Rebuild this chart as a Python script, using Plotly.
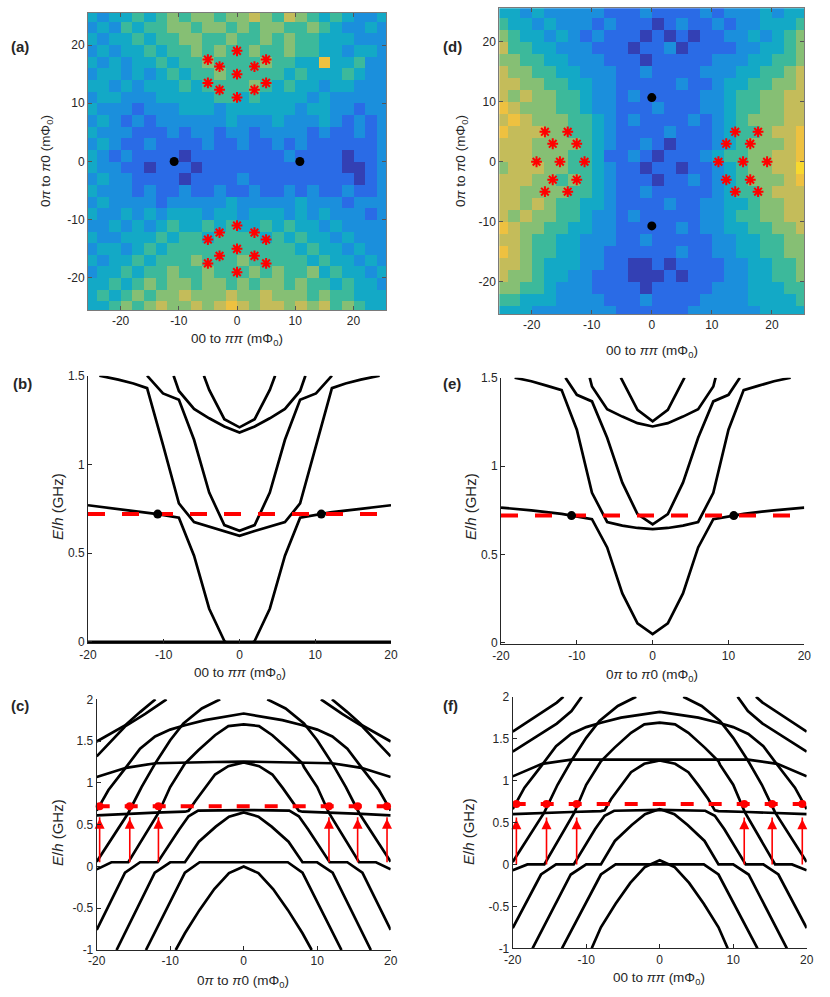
import plotly.graph_objects as go

W, H = 830, 997
FONT = "Liberation Sans"
INK = "#262626"

# ---------------- (a) / (d): colour level (0-9) of each 2x2 mPhi0 block, rows from top
grid_x = list(range(-25, 26, 2))
grid_y = list(range(25, -26, -2))

a_rows = [
    "32334345455455654654343223",
    "23243445545545455445432232",
    "32334344554454454544333222",
    "23233434454544544544332332",
    "32323343445444454433733422",
    "23323234344544444343334322",
    "33232333434444543433233222",
    "23322233333443433332322222",
    "32221222333233333323322122",
    "23212122222232223222321212",
    "32221112122122122221211212",
    "23211211112112112121111112",
    "32121111011111111211110112",
    "32211011101111111111110012",
    "23221111011112111111111012",
    "32221211211211211212112112",
    "23222212222232222232221222",
    "32232323332332333232322212",
    "22323234334343343433232222",
    "32233343443444434343323222",
    "23323434444444444434332322",
    "32334344454445444443433232",
    "23343445445444545445343323",
    "33434545545545455454434332",
    "34345455655565565554544333",
    "33454565565676566565645433",
]

d_rows = [
    "33232222211121111212223233",
    "43323222121110121121223334",
    "54332321211101010112232345",
    "64433222111011201111223345",
    "55443322211101111122233445",
    "65544332221121111222334456",
    "66554433221111121123344556",
    "65655443221211111223445566",
    "76555443221112111223445566",
    "67655544321211112123455566",
    "76665544321111211123445667",
    "66655554321121011123455567",
    "66655544311210111234455667",
    "56665544321101101123455668",
    "66655454321110112123455567",
    "66555544321121111123445666",
    "66565443321111211223345566",
    "65655443221211111223445566",
    "76554433221111121223344556",
    "66544332221121111122334455",
    "76544332211111121122334455",
    "66543332211001011112233445",
    "65543322111000101112233445",
    "55443222111101111122233344",
    "44333222211121111222233334",
    "33322222221111112222223333",
]

parula = ["#3340b4", "#2a6be6", "#1b8fdc", "#13a9c6", "#3cb99b",
          "#86bf74", "#c4bc5a", "#eec140", "#f8d82e", "#f5f520"]

a_star_x = [0, 0, 0, -3, -3, 3, 3, -5, -5, 5, 5,
            0, 0, 0, -3, -3, 3, 3, -5, -5, 5, 5]
a_star_y = [19, 15, 11, 16.3, 12.3, 16.3, 12.3, 17.5, 13.5, 17.5, 13.5,
            -19, -15, -11, -12.2, -16.2, -12.2, -16.2, -13.4, -17.5, -13.4, -17.5]
a_dot_x = [-10.8, 10.8]
a_dot_y = [0, 0]

d_star_x = [-19.2, -15.3, -11.2, -16.5, -12.5, -16.5, -12.5, -17.8, -14, -17.8, -14,
            11.1, 15.2, 19.2, 12.4, 16.4, 12.4, 16.4, 13.9, 17.7, 13.9, 17.7]
d_star_y = [0, 0, 0, 3, 3, -3, -3, 5, 5, -5, -5,
            0, 0, 0, 3, 3, -3, -3, 5, 5, -5, -5]
d_dot_x = [0, 0]
d_dot_y = [10.7, -10.7]

# ---------------- (b): levels vs 00 to pipi
b_lines_x = [
    [-20, 20],
    [-20, -16, -12, -10.8, -8, -6, -4, -2, 0, 2, 4, 6, 8, 10.8, 12, 16, 20],
    [-18.5, -16, -14, -12.2, -10.1, -8, -6, -4, -2, 0, 2, 4, 6, 8, 10.1, 12.2, 14, 16, 18.5],
    [-12.2, -10.1, -8, -6, -4, -2, 0, 2, 4, 6, 8, 10.1, 12.2],
    [-8.7, -8, -6, -4, -2, 0, 2, 4, 6, 8, 8.7],
    [-4.7, -4, -2, 0, 2, 4, 4.7],
]
b_lines_y = [
    [0, 0],
    [0.77, 0.75, 0.73, 0.72, 0.70, 0.486, 0.187, 0.005, -0.06, 0.005, 0.187, 0.486, 0.70, 0.72, 0.73, 0.75, 0.77],
    [1.5, 1.478, 1.456, 1.43, 1.11, 0.78, 0.675, 0.65, 0.625, 0.598, 0.625, 0.65, 0.675, 0.78, 1.11, 1.43, 1.456, 1.478, 1.5],
    [1.5, 1.40, 1.364, 1.139, 0.841, 0.658, 0.626, 0.658, 0.841, 1.139, 1.364, 1.40, 1.5],
    [1.5, 1.414, 1.313, 1.26, 1.214, 1.18, 1.214, 1.26, 1.313, 1.414, 1.5],
    [1.5, 1.42, 1.255, 1.209, 1.255, 1.42, 1.5],
]
b_dot_x = [-10.8, 10.8]
b_dot_y = [0.72, 0.72]

# ---------------- (e): levels vs 0pi to pi0
e_lines_x = [
    [-20, -16, -12, -10.7, -8, -6, -4, -2, 0, 2, 4, 6, 8, 10.7, 12, 16, 20],
    [-18.2, -16, -14, -12, -10, -8, -6, -4, -2, 0, 2, 4, 6, 8, 10, 12, 14, 16, 18.2],
    [-11.5, -10, -8, -6, -4, -2, 0, 2, 4, 6, 8, 10, 11.5],
    [-8.3, -8, -6, -4, -2, 0, 2, 4, 6, 8, 8.3],
    [-4.2, -2, 0, 2, 4.2],
]
e_lines_y = [
    [0.765, 0.75, 0.73, 0.72, 0.70, 0.54, 0.28, 0.11, 0.05, 0.11, 0.28, 0.54, 0.70, 0.72, 0.73, 0.75, 0.765],
    [1.5, 1.48, 1.455, 1.43, 1.206, 0.849, 0.684, 0.663, 0.65, 0.643, 0.65, 0.663, 0.684, 0.849, 1.206, 1.43, 1.455, 1.48, 1.5],
    [1.5, 1.403, 1.366, 1.16, 0.906, 0.728, 0.671, 0.728, 0.906, 1.16, 1.366, 1.403, 1.5],
    [1.5, 1.45, 1.322, 1.28, 1.243, 1.224, 1.243, 1.28, 1.322, 1.45, 1.5],
    [1.5, 1.318, 1.253, 1.318, 1.5],
]
e_dot_x = [-10.7, 10.7]
e_dot_y = [0.72, 0.72]

# ---------------- (c): levels vs 0pi to pi0, with pump arrows
c_lines_x = [
    [-9.25, -8, -6, -4, -2, 0, 2, 4, 6, 8, 9.25],
    [-13.3, -8, -6, 6, 8, 13.3],
    [-17.3, -12.1, -10, -8, -6.1, -3.8, -2, 0, 2, 3.8, 6.1, 8, 10, 12.1, 17.3],
    [-20, -16.15, -14.1, -11.7, -8.8, -7.5, -6.2, 0, 6.2, 7.5, 8.8, 11.7, 14.1, 16.15, 20],
    [-20, -16, -12, -8, -7.5, -6.6, -5.3, -3.9, -2.1, 0, 2.1, 3.9, 5.3, 6.6, 7.5, 8, 12, 16, 20],
    [-20, -18, -15.7, -11.6, -10, -8.2, -8, -6.17, -3.9, -2.09, 0, 2.09, 3.9, 6.17, 8, 8.2, 10, 11.6, 15.7, 18, 20],
    [-20, -15.7, -13.9, -12.06, -10, -8.2, -5.7, -3.2],
    [20, 15.7, 13.9, 12.06, 10, 8.2, 5.7, 3.2],
    [-20, -18.4, -16.15, -14.1, -12.06, -10, -8, -5.26, 0, 5.26, 8, 10, 12.06, 14.1, 16.15, 18.4, 20],
    [-20, -16, -12, -8, -4, 0, 4, 8, 12, 16, 20],
    [-20, -18, -16.15, -14.1, -12],
    [20, 18, 16.15, 14.1, 12],
    [-20, -18, -16.15, -13.4, -10.5],
    [20, 18, 16.15, 13.4, 10.5],
]
c_lines_y = [
    [-1, -0.8, -0.52, -0.27, -0.08, 0, -0.08, -0.27, -0.52, -0.8, -1],
    [-1, -0.075, 0.05, 0.05, -0.075, -1],
    [-1, -0.075, 0.05, 0.05, 0.296, 0.476, 0.596, 0.647, 0.596, 0.476, 0.296, 0.05, 0.05, -0.075, -1],
    [-0.76, -0.075, 0.05, 0.05, 0.44, 0.6, 0.667, 0.675, 0.667, 0.6, 0.44, 0.05, 0.05, -0.075, -0.76],
    [0.61, 0.63, 0.645, 0.655, 0.665, 0.78, 0.94, 1.1, 1.2, 1.245, 1.2, 1.1, 0.94, 0.78, 0.665, 0.655, 0.645, 0.63, 0.61],
    [-0.035, 0.05, 0.05, 0.64, 0.95, 1.19, 1.23, 1.39, 1.57, 1.68, 1.70, 1.68, 1.57, 1.39, 1.23, 1.19, 0.95, 0.64, 0.05, 0.05, -0.035],
    [0.057, 0.64, 0.95, 1.23, 1.51, 1.71, 1.89, 2.0],
    [0.057, 0.64, 0.95, 1.23, 1.51, 1.71, 1.89, 2.0],
    [0.667, 0.915, 1.17, 1.41, 1.556, 1.637, 1.69, 1.75, 1.83, 1.75, 1.69, 1.637, 1.556, 1.41, 1.17, 0.915, 0.667],
    [1.07, 1.18, 1.235, 1.245, 1.25, 1.255, 1.25, 1.245, 1.235, 1.18, 1.07],
    [1.495, 1.595, 1.687, 1.847, 2.0],
    [1.495, 1.595, 1.687, 1.847, 2.0],
    [1.317, 1.507, 1.675, 1.825, 2.0],
    [1.317, 1.507, 1.675, 1.825, 2.0],
]
c_arrow_x = [-19.6, -15.5, -11.6, 11.6, 15.5, 19.5]
c_arrow_base = 0.05
c_arrow_tip = 0.62

# ---------------- (f): levels vs 00 to pipi, with pump arrows
f_lines_x = [
    [-9.25, -8, -6, -4, -2, 0, 2, 4, 6, 8, 9.25],
    [-13.3, -8, -6, 6, 8, 13.3],
    [-17.3, -12.1, -10, -8, -6.1, -3.8, -2, 0, 2, 3.8, 6.1, 8, 10, 12.1, 17.3],
    [-20, -16.15, -14.1, -11.7, -8.8, -7.5, -6.2, 0, 6.2, 7.5, 8.8, 11.7, 14.1, 16.15, 20],
    [-20, -16, -12, -8, -7.5, -6.6, -5.3, -3.9, -2.1, 0, 2.1, 3.9, 5.3, 6.6, 7.5, 8, 12, 16, 20],
    [-20, -18, -15.7, -11.6, -10, -8.2, -8, -6.17, -3.9, -2.09, 0, 2.09, 3.9, 6.17, 8, 8.2, 10, 11.6, 15.7, 18, 20],
    [-20, -15.7, -13.9, -12.06, -10, -8.2, -5.7, -3.2],
    [20, 15.7, 13.9, 12.06, 10, 8.2, 5.7, 3.2],
    [-20, -18.4, -16.15, -14.1, -12.06, -10, -8, -5.26, 0, 5.26, 8, 10, 12.06, 14.1, 16.15, 18.4, 20],
    [-20, -16, -12, -8, -4, 0, 4, 8, 12, 16, 20],
    [-20, -18, -16, -14, -13.1],
    [20, 18, 16, 14, 13.1],
    [-20, -18, -16, -14, -12, -10.6],
    [20, 18, 16, 14, 12, 10.6],
]
f_lines_y = [
    [-1, -0.75, -0.47, -0.22, -0.03, 0.05, -0.03, -0.22, -0.47, -0.75, -1],
    [-1, -0.12, 0.0, 0.0, -0.12, -1],
    [-1, -0.12, 0.0, 0.0, 0.28, 0.47, 0.6, 0.66, 0.6, 0.47, 0.28, 0.0, 0.0, -0.12, -1],
    [-0.76, -0.12, 0.0, 0.0, 0.42, 0.58, 0.64, 0.65, 0.64, 0.58, 0.42, 0.0, 0.0, -0.12, -0.76],
    [0.6, 0.615, 0.625, 0.635, 0.645, 0.78, 0.94, 1.1, 1.2, 1.24, 1.2, 1.1, 0.94, 0.78, 0.645, 0.635, 0.625, 0.615, 0.6],
    [-0.07, 0.0, 0.0, 0.62, 0.95, 1.19, 1.23, 1.39, 1.57, 1.67, 1.69, 1.67, 1.57, 1.39, 1.23, 1.19, 0.95, 0.62, 0.0, 0.0, -0.07],
    [0.03, 0.62, 0.95, 1.23, 1.51, 1.71, 1.89, 2.0],
    [0.03, 0.62, 0.95, 1.23, 1.51, 1.71, 1.89, 2.0],
    [0.66, 0.915, 1.17, 1.41, 1.556, 1.637, 1.69, 1.75, 1.82, 1.75, 1.69, 1.637, 1.556, 1.41, 1.17, 0.915, 0.66],
    [1.05, 1.2, 1.25, 1.25, 1.25, 1.255, 1.25, 1.25, 1.25, 1.2, 1.05],
    [1.583, 1.70, 1.81, 1.93, 2.0],
    [1.583, 1.70, 1.81, 1.93, 2.0],
    [1.345, 1.46, 1.57, 1.68, 1.83, 2.0],
    [1.345, 1.46, 1.57, 1.68, 1.83, 2.0],
]
f_arrow_x = [-19.5, -15.4, -11.3, 11.5, 15.3, 19.4]
f_arrow_base = 0.0
f_arrow_tip = 0.59

pump_level = 0.72

T_00PP = "00 to <i>ππ</i> (mΦ<sub>0</sub>)"
T_0PP0 = "0<i>π</i> to <i>π</i>0 (mΦ<sub>0</sub>)"
T_E = "<i>E</i>/<i>h</i> (GHz)"


def to_levels(rows):
    for r in rows:
        assert len(r) == len(grid_x), r
    return [[int(ch) for ch in r] for r in rows]


def px_x(p):
    return p / W


def px_y(p):
    return 1 - p / H


fig = go.Figure()
cscale = [[i / 9, c] for i, c in enumerate(parula)]

# heat maps
for rows, ax, sx, sy, dx, dy in [(a_rows, "", a_star_x, a_star_y, a_dot_x, a_dot_y),
                                  (d_rows, "2", d_star_x, d_star_y, d_dot_x, d_dot_y)]:
    fig.add_trace(go.Heatmap(z=to_levels(rows), x=grid_x, y=grid_y, colorscale=cscale,
                             zmin=0, zmax=9, showscale=False, xaxis="x" + ax, yaxis="y" + ax))
    fig.add_trace(go.Scatter(x=sx, y=sy, mode="markers", xaxis="x" + ax, yaxis="y" + ax,
                             marker=dict(symbol="asterisk-open", size=9, color="red",
                                         line=dict(color="red", width=2))))
    fig.add_trace(go.Scatter(x=dx, y=dy, mode="markers", xaxis="x" + ax, yaxis="y" + ax,
                             marker=dict(symbol="circle", size=9, color="black")))

# (b) and (e)
for lx, ly, dx, dy, ax in [(b_lines_x, b_lines_y, b_dot_x, b_dot_y, "3"),
                           (e_lines_x, e_lines_y, e_dot_x, e_dot_y, "4")]:
    for xs, ys in zip(lx, ly):
        fig.add_trace(go.Scatter(x=xs, y=ys, mode="lines", xaxis="x" + ax, yaxis="y" + ax,
                                 line=dict(color="black", width=2.7)))
    fig.add_trace(go.Scatter(x=[-20, 20], y=[pump_level, pump_level], mode="lines",
                             xaxis="x" + ax, yaxis="y" + ax,
                             line=dict(color="red", width=4, dash="17px,17px")))
    fig.add_trace(go.Scatter(x=dx, y=dy, mode="markers", xaxis="x" + ax, yaxis="y" + ax,
                             marker=dict(size=9, color="black")))

# (c) and (f): pump arrows drawn as red stems with arrow-up heads
for lx, ly, arx, base, tip, ax in [(c_lines_x, c_lines_y, c_arrow_x, c_arrow_base, c_arrow_tip, "5"),
                                   (f_lines_x, f_lines_y, f_arrow_x, f_arrow_base, f_arrow_tip, "6")]:
    for xs, ys in zip(lx, ly):
        fig.add_trace(go.Scatter(x=xs, y=ys, mode="lines", xaxis="x" + ax, yaxis="y" + ax,
                                 line=dict(color="black", width=2.7)))
    fig.add_trace(go.Scatter(x=[-20, 20], y=[pump_level, pump_level], mode="lines",
                             xaxis="x" + ax, yaxis="y" + ax,
                             line=dict(color="red", width=4, dash="13px,15px")))
    fig.add_trace(go.Scatter(x=arx, y=[pump_level] * len(arx), mode="markers",
                             xaxis="x" + ax, yaxis="y" + ax, cliponaxis=False,
                             marker=dict(size=8, color="red")))
    stem_x, stem_y = [], []
    for xa in arx:
        stem_x += [xa, xa, None]
        stem_y += [base, tip - 0.03, None]
    fig.add_trace(go.Scatter(x=stem_x, y=stem_y, mode="lines", xaxis="x" + ax, yaxis="y" + ax,
                             line=dict(color="red", width=1.6)))
    fig.add_trace(go.Scatter(x=arx, y=[tip - 0.05] * len(arx), mode="markers",
                             xaxis="x" + ax, yaxis="y" + ax, cliponaxis=False,
                             marker=dict(symbol="arrow-up", size=10, color="red")))

tick_font = dict(family=FONT, size=12, color=INK)
lab20 = dict(tickvals=[-20, -10, 0, 10, 20], ticktext=["-20", "-10", "0", "10", "20"])


def heat_axis(dom, rng):
    return dict(domain=dom, range=rng, showgrid=False, zeroline=False, showline=True,
                linecolor="#7a7a7a", linewidth=1, mirror="allticks", ticks="inside",
                ticklen=4, tickcolor="#555555", tickfont=tick_font, automargin=False, **lab20)


def line_x(dom, anchor):
    return dict(domain=dom, range=[-20, 20], anchor=anchor, showgrid=False, zeroline=False,
                showline=True, linecolor=INK, linewidth=1, ticks="inside", ticklen=4,
                tickcolor=INK, tickfont=tick_font, automargin=False, **lab20)


def line_y(dom, anchor, rng, vals):
    return dict(domain=dom, range=rng, anchor=anchor, showgrid=False, zeroline=False,
                showline=True, linecolor=INK, linewidth=1, ticks="inside", ticklen=4,
                tickcolor=INK, tickfont=tick_font, automargin=False, tickvals=vals,
                ticktext=[("%g" % v) for v in vals])


yt_b = [0, 0.5, 1, 1.5]
yt_c = [-1, -0.5, 0, 0.5, 1, 1.5, 2]

layout_axes = dict(
    xaxis=dict(heat_axis([px_x(88), px_x(386)], [-25.6, 25.6]), anchor="y"),
    yaxis=dict(heat_axis([px_y(310), px_y(13)], [-25.5, 25.5]), anchor="x"),
    xaxis2=dict(heat_axis([px_x(499.3), px_x(804.3)], [-25.4, 25.4]), anchor="y2"),
    yaxis2=dict(heat_axis([px_y(314), px_y(8.3)], [-25.4, 25.6]), anchor="x2"),
    xaxis3=line_x([px_x(88), px_x(391)], "y3"),
    yaxis3=line_y([px_y(643.3), px_y(375.7)], "x3", [-0.008, 1.5], yt_b),
    xaxis4=line_x([px_x(501), px_x(804.3)], "y4"),
    yaxis4=line_y([px_y(644.3), px_y(377.7)], "x4", [-0.008, 1.5], yt_b),
    xaxis5=line_x([px_x(96.7), px_x(390.7)], "y5"),
    yaxis5=line_y([px_y(950), px_y(699.3)], "x5", [-1, 2], yt_c),
    xaxis6=line_x([px_x(512.7), px_x(806.7)], "y6"),
    yaxis6=line_y([px_y(948.3), px_y(696.7)], "x6", [-1, 2], yt_c),
)

title_font = dict(family=FONT, size=13.5, color=INK)
etitle_font = dict(family=FONT, size=15, color=INK)
label_font = dict(family=FONT, size=15, color=INK)


def txt(x, y, s, angle=0, font=title_font):
    return dict(x=px_x(x), y=px_y(y), xref="paper", yref="paper", text=s, showarrow=False,
                textangle=angle, font=font, xanchor="center", yanchor="middle")


annotations = [
    txt(237, 340, T_00PP), txt(47, 161, T_0PP0, -90),
    txt(652, 352, T_00PP), txt(462, 161, T_0PP0, -90),
    txt(240, 673, T_00PP), txt(57, 507, T_E, -90, etitle_font),
    txt(652, 675, T_0PP0), txt(470, 507, T_E, -90, etitle_font),
    txt(243, 981, T_0PP0), txt(57, 833, T_E, -90, etitle_font),
    txt(659, 978, T_00PP), txt(468, 832, T_E, -90, etitle_font),
    txt(20, 47, "<b>(a)</b>", font=label_font), txt(452, 47, "<b>(d)</b>", font=label_font),
    txt(22, 383, "<b>(b)</b>", font=label_font), txt(452, 383, "<b>(e)</b>", font=label_font),
    txt(20, 705, "<b>(c)</b>", font=label_font), txt(450, 705, "<b>(f)</b>", font=label_font),
]

fig.update_layout(width=W, height=H, margin=dict(l=0, r=0, t=0, b=0, autoexpand=False),
                  paper_bgcolor="white", plot_bgcolor="white", showlegend=False,
                  annotations=annotations, **layout_axes)

# the page's default 8px body margin would shift the whole figure
fig.write_html("out.html", config={"displayModeBar": False},
               post_script="document.body.style.margin='0';")
